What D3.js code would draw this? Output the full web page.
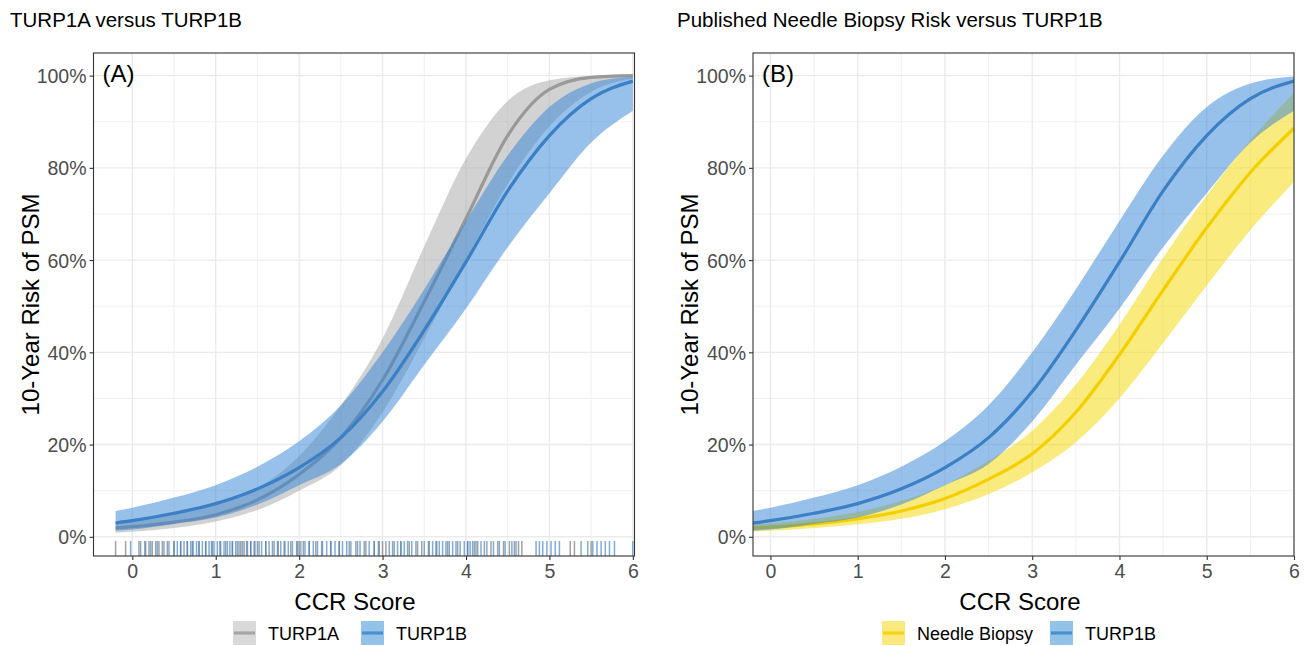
<!DOCTYPE html>
<html>
<head>
<meta charset="utf-8">
<script src="https://cdn.jsdelivr.net/npm/d3@7"></script>
<style>
  body { margin: 0; background: #fff; }
  text { font-family: "Liberation Sans", Arial, Helvetica, sans-serif; }
</style>
</head>
<body>
<svg id="chart" width="1304" height="646"></svg>
<script>
// ---------------- data ----------------
const ccrGrid   = [-0.2, 0, 0.5, 1, 1.5, 2, 2.5, 3, 3.5, 4, 4.5, 5, 5.5, 6];

const turp1aMid = [0.019, 0.022, 0.032, 0.048, 0.080, 0.135, 0.215, 0.340, 0.510, 0.690, 0.870, 0.970, 0.996, 1.000];
const turp1aLo  = [0.009, 0.011, 0.019, 0.033, 0.058, 0.100, 0.155, 0.270, 0.430, 0.600, 0.765, 0.890, 0.965, 0.993];
const turp1aHi  = [0.034, 0.038, 0.050, 0.070, 0.105, 0.175, 0.285, 0.430, 0.630, 0.820, 0.945, 0.990, 0.999, 1.000];

const turp1bMid = [0.030, 0.035, 0.051, 0.072, 0.104, 0.150, 0.215, 0.315, 0.448, 0.596, 0.750, 0.870, 0.950, 0.988];
const turp1bLo  = [0.013, 0.016, 0.028, 0.042, 0.070, 0.112, 0.158, 0.250, 0.373, 0.495, 0.628, 0.745, 0.855, 0.924];
const turp1bHi  = [0.056, 0.063, 0.085, 0.112, 0.152, 0.207, 0.285, 0.400, 0.537, 0.685, 0.827, 0.932, 0.983, 0.998];

const needleMid = [0.019, 0.021, 0.028, 0.039, 0.056, 0.083, 0.125, 0.180, 0.270, 0.395, 0.535, 0.670, 0.790, 0.886];
const needleLo  = [0.012, 0.013, 0.019, 0.027, 0.039, 0.060, 0.093, 0.140, 0.205, 0.300, 0.420, 0.545, 0.665, 0.770];
const needleHi  = [0.027, 0.029, 0.039, 0.054, 0.078, 0.113, 0.165, 0.230, 0.330, 0.460, 0.605, 0.740, 0.860, 0.963];

// rug (observed CCR scores) in panel A
const turp1aRug = [-0.2, -0.08, 0.08, 0.15, 0.2, 0.24, 0.28, 0.32, 0.36, 0.42, 0.5, 0.58, 0.66, 0.72, 0.8, 0.88,
  0.96, 1.05, 1.12, 1.2, 1.26, 1.3, 1.34, 1.38, 1.42, 1.47, 1.52, 1.6, 1.68, 1.75, 1.82, 1.9, 1.97, 2.0, 2.05,
  2.12, 2.2, 2.28, 2.38, 2.48, 2.6, 2.7, 2.8, 2.9, 2.96, 3.0, 3.04, 3.12, 3.22, 3.32, 3.42, 3.47, 3.55, 3.65,
  3.78, 3.9, 4.02, 4.1, 4.14, 4.22, 4.3, 4.38, 4.45, 4.52, 4.58, 4.63, 4.67, 5.25, 5.3, 5.5];
const turp1bRug = [-0.02, 0.1, 0.16, 0.22, 0.3, 0.38, 0.44, 0.5, 0.54, 0.58, 0.62, 0.66, 0.7, 0.73, 0.77, 0.8,
  0.84, 0.88, 0.92, 0.95, 0.98, 1.02, 1.06, 1.1, 1.14, 1.17, 1.2, 1.24, 1.28, 1.32, 1.37, 1.42, 1.46, 1.5, 1.55,
  1.6, 1.64, 1.7, 1.74, 1.78, 1.83, 1.87, 1.92, 1.98, 2.02, 2.07, 2.12, 2.17, 2.22, 2.27, 2.33, 2.38, 2.43, 2.48,
  2.52, 2.57, 2.62, 2.68, 2.73, 2.78, 2.84, 2.9, 2.95, 3.08, 3.14, 3.18, 3.22, 3.26, 3.3, 3.35, 3.4, 3.5, 3.56,
  3.6, 3.64, 3.68, 3.72, 3.76, 3.8, 3.84, 3.88, 3.93, 3.98, 4.02, 4.05, 4.08, 4.12, 4.18, 4.25, 4.33, 4.4, 4.47,
  4.55, 4.6, 4.84, 4.88, 4.92, 4.97, 5.02, 5.07, 5.12, 5.38, 5.46, 5.52, 5.57, 5.62, 5.67, 5.72, 5.78, 6.0];

const xTickValues = [0, 1, 2, 3, 4, 5, 6];
const yTickValues = [0, 0.2, 0.4, 0.6, 0.8, 1.0];
const panelTitles = ["TURP1A versus TURP1B", "Published Needle Biopsy Risk versus TURP1B"];
const panelTags   = ["(A)", "(B)"];
const legendLabelsA = ["TURP1A", "TURP1B"];
const legendLabelsB = ["Needle Biopsy", "TURP1B"];

// ---------------- drawing ----------------
const svg = d3.select("#chart");
svg.append("rect").attr("width", 1304).attr("height", 646).attr("fill", "#fff");

const STYLE = {
  turp1a: { fill: "#a6a6a6", line: "#999999", keyFill: "#d9d9d9", keyLine: "#a6a6a6" },
  turp1b: { fill: "#2f84d6", line: "#3b7fc4", keyFill: "#94c3ea", keyLine: "#4a8fd2" },
  needle: { fill: "#f5d800", line: "#f3cf00", keyFill: "#faea7d", keyLine: "#f5d416" }
};

function mk(mid, lo, hi) {
  return ccrGrid.map((c, i) => ({ x: c, m: mid[i], lo: lo[i], hi: hi[i] }));
}

function drawPanel(cfg) {
  const T = 53, B = 556;
  const x = d3.scaleLinear().domain(cfg.xDomain).range([cfg.L, cfg.R]);
  const y = d3.scaleLinear().domain([-0.0416, 1.049]).range([B, T]);
  const g = svg.append("g");

  // title
  svg.append("text").attr("x", cfg.titleX).attr("y", 27).attr("font-size", 20.5)
    .attr("fill", "#000").text(cfg.title);

  // grid
  const minorX = d3.range(-0.5, 6.01, 1).filter(v => v > cfg.xDomain[0] && v < cfg.xDomain[1]);
  const minorY = [0.1, 0.3, 0.5, 0.7, 0.9];
  g.selectAll(".mx").data(minorX).join("line")
    .attr("x1", d => x(d)).attr("x2", d => x(d)).attr("y1", T).attr("y2", B)
    .attr("stroke", "#eeeeee").attr("stroke-width", 0.9);
  g.selectAll(".my").data(minorY).join("line")
    .attr("y1", d => y(d)).attr("y2", d => y(d)).attr("x1", cfg.L).attr("x2", cfg.R)
    .attr("stroke", "#eeeeee").attr("stroke-width", 0.9);
  g.selectAll(".Mx").data(xTickValues).join("line")
    .attr("x1", d => x(d)).attr("x2", d => x(d)).attr("y1", T).attr("y2", B)
    .attr("stroke", "#ebebeb").attr("stroke-width", 1.4);
  g.selectAll(".My").data(yTickValues).join("line")
    .attr("y1", d => y(d)).attr("y2", d => y(d)).attr("x1", cfg.L).attr("x2", cfg.R)
    .attr("stroke", "#ebebeb").attr("stroke-width", 1.4);

  // clip
  const cid = "clip" + cfg.id;
  svg.append("clipPath").attr("id", cid).append("rect")
    .attr("x", cfg.L).attr("y", T).attr("width", cfg.R - cfg.L).attr("height", B - T);
  const plot = g.append("g").attr("clip-path", `url(#${cid})`);

  const area = d3.area().curve(d3.curveMonotoneX)
    .x(d => x(d.x)).y0(d => y(d.lo)).y1(d => y(d.hi));
  const line = d3.line().curve(d3.curveMonotoneX)
    .x(d => x(d.x)).y(d => y(d.m));

  cfg.series.forEach(s => {
    plot.append("path").datum(s.data).attr("d", area)
      .attr("fill", s.style.fill).attr("fill-opacity", 0.5);
    plot.append("path").datum(s.data).attr("d", line)
      .attr("fill", "none").attr("stroke", s.style.line).attr("stroke-width", 3.2);
  });

  // rug
  if (cfg.rugs) {
    cfg.rugs.forEach(r => {
      plot.selectAll(null).data(r.values).join("line")
        .attr("x1", d => x(d)).attr("x2", d => x(d))
        .attr("y1", B).attr("y2", B - 15)
        .attr("stroke", r.color).attr("stroke-opacity", r.opacity).attr("stroke-width", 1.5);
    });
  }

  // panel tag
  g.append("text").attr("x", cfg.L + 9).attr("y", 82).attr("font-size", 24)
    .attr("fill", "#000").text(cfg.tag);

  // border
  g.append("rect").attr("x", cfg.L).attr("y", T).attr("width", cfg.R - cfg.L).attr("height", B - T)
    .attr("fill", "none").attr("stroke", "#333").attr("stroke-width", 1.1);

  // axes
  const ax = g.append("g").attr("transform", `translate(0,${B})`)
    .call(d3.axisBottom(x).tickValues(xTickValues).tickFormat(d3.format("d")).tickSize(4).tickPadding(4));
  const ay = g.append("g").attr("transform", `translate(${cfg.L},0)`)
    .call(d3.axisLeft(y).tickValues(yTickValues).tickFormat(d3.format(".0%")).tickSize(4).tickPadding(3));
  [ax, ay].forEach(a => {
    a.select(".domain").remove();
    a.selectAll(".tick line").attr("stroke", "#333").attr("stroke-width", 1.1);
    a.selectAll(".tick text").attr("fill", "#4d4d4d").attr("font-size", 19.5)
      .attr("font-family", "Liberation Sans, Arial, sans-serif");
  });
  ay.selectAll(".tick text").attr("dy", "0.36em");

  // axis titles
  g.append("text").attr("x", cfg.xTitleX).attr("y", 610).attr("text-anchor", "middle")
    .attr("font-size", 24).attr("fill", "#000").text("CCR Score");
  g.append("text").attr("transform", `translate(${cfg.yTitleX},${(T + B) / 2}) rotate(-90)`)
    .attr("text-anchor", "middle").attr("font-size", 24).attr("fill", "#000")
    .text("10-Year Risk of PSM");

  // legend
  cfg.legend.forEach(l => {
    const lg = svg.append("g");
    lg.append("rect").attr("x", l.x).attr("y", 621).attr("width", 23).attr("height", 24)
      .attr("fill", l.style.keyFill);
    lg.append("line").attr("x1", l.x + 1).attr("x2", l.x + 22).attr("y1", 633).attr("y2", 633)
      .attr("stroke", l.style.keyLine).attr("stroke-width", 3.2);
    lg.append("text").attr("x", l.x + 35).attr("y", 639.5).attr("font-size", 18)
      .attr("fill", "#000").text(l.label);
  });
}

drawPanel({
  id: "A", L: 93.5, R: 634.5, xDomain: [-0.465, 6.02],
  title: panelTitles[0], titleX: 10, tag: panelTags[0],
  xTitleX: 355, yTitleX: 39,
  series: [
    { data: mk(turp1aMid, turp1aLo, turp1aHi), style: STYLE.turp1a },
    { data: mk(turp1bMid, turp1bLo, turp1bHi), style: STYLE.turp1b }
  ],
  rugs: [
    { values: turp1aRug, color: "#7a7a7a", opacity: 0.7 },
    { values: turp1bRug, color: "#3b7fc4", opacity: 0.65 }
  ],
  legend: [
    { x: 233, label: legendLabelsA[0], style: STYLE.turp1a },
    { x: 361, label: legendLabelsA[1], style: STYLE.turp1b }
  ]
});

drawPanel({
  id: "B", L: 753, R: 1294, xDomain: [-0.2, 6.0],
  title: panelTitles[1], titleX: 677, tag: panelTags[1],
  xTitleX: 1020, yTitleX: 698,
  series: [
    { data: mk(needleMid, needleLo, needleHi), style: STYLE.needle },
    { data: mk(turp1bMid, turp1bLo, turp1bHi), style: STYLE.turp1b }
  ],
  legend: [
    { x: 882, label: legendLabelsB[0], style: STYLE.needle },
    { x: 1050, label: legendLabelsB[1], style: STYLE.turp1b }
  ]
});
</script>
</body>
</html>
